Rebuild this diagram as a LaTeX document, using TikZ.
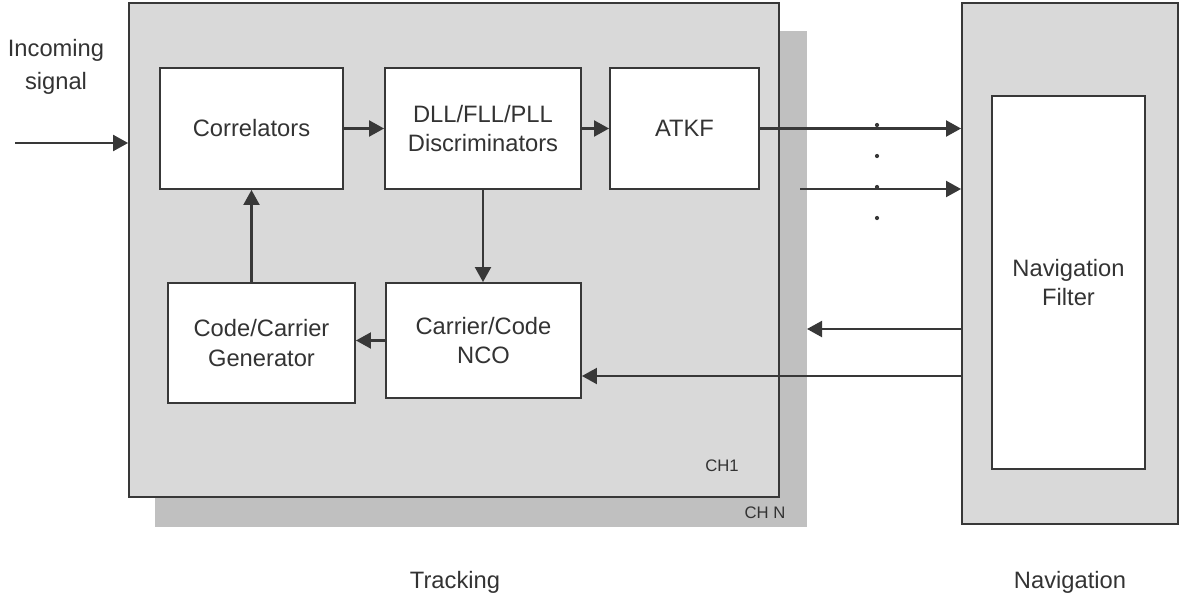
\documentclass[tikz,border=0pt]{standalone}
\usepackage{fontspec}
\setmainfont{Liberation Sans}
\usetikzlibrary{arrows.meta}
\definecolor{chgray}{HTML}{D9D9D9}
\definecolor{shgray}{HTML}{C0C0C0}
\definecolor{ln}{HTML}{383838}
\definecolor{tx}{HTML}{333333}

\begin{document}
\begin{tikzpicture}[x=0.02cm,y=-0.02cm,font=\fontsize{13.5}{17}\selectfont,text=tx,
  chbox/.style={draw=ln,line width=1.1pt,fill=chgray,inner sep=0pt},
  blk/.style={draw=ln,line width=1.1pt,fill=white,align=center,inner sep=0pt},
  arr/.style={draw=ln,line width=1.2pt,-{Triangle[length=0.3cm,width=0.32cm]}},
  small/.style={font=\fontsize{9.5}{11}\selectfont}]

\useasboundingbox (0,0) rectangle (1186,602);

%canali
\node[fill=shgray,inner sep=0pt,minimum width=13.04cm,minimum height=9.92cm] (chn) at (481,279) {};
\node[chbox,minimum width=13cm,minimum height=9.88cm] (ch1) at (454,250) {};
\node[small] (lchn) at (765,513) {CH N};
\node[small] (lch1) at (722,466) {CH1};

%blocchi
\node[blk,minimum width=3.66cm,minimum height=2.42cm] (corr) at (251.5,128.5) {Correlators};
\node[blk,minimum width=3.92cm,minimum height=2.42cm] (disc) at (483,128.5) {DLL/FLL/PLL\\Discriminators};
\node[blk,minimum width=2.98cm,minimum height=2.42cm] (atkf) at (684.5,128.5) {ATKF};
\node[blk,minimum width=3.74cm,minimum height=2.4cm] (gen) at (261.5,343) {Code/Carrier\\Generator};
\node[blk,minimum width=3.9cm,minimum height=2.3cm] (nco) at (483.5,340.5) {Carrier/Code\\NCO};

%navigazione
\node[chbox,minimum width=4.32cm,minimum height=10.42cm] (nav) at (1070,263.5) {};
\node[blk,minimum width=3.06cm,minimum height=7.46cm] (filt) at (1068.5,282.5) {Navigation\\Filter};

%segnale
\coordinate (in) at (15,143);
\node[align=center,font=\fontsize{13.5}{18.5}\selectfont] (lin) at (56,67) {Incoming\\signal};
\draw[arr] (in) -- (in -| ch1.west);

\draw[arr] (corr.east) -- (disc.west);
\draw[arr] (disc.east) -- (atkf.west);
\draw[arr] (disc.south) -- (disc.south |- nco.north);
\draw[arr] (nco.west) -- (nco.west -| gen.east);
\draw[arr] (corr.south |- gen.north) -- (corr.south);

%uscite
\coordinate (o2) at (800,189);
\draw[arr] (atkf.east) -- (atkf.east -| nav.west);
\draw[arr] (o2) -- (o2 -| nav.west);
\foreach \y in {125,156,187,218}
  \fill[ln] (877,\y) circle (1.2pt);

%ritorno
\coordinate (r1) at (807,329);
\coordinate (r2) at (0,376);
\draw[arr] (r1 -| nav.west) -- (r1);
\draw[arr] (r2 -| nav.west) -- (r2 -| nco.east);

\node (ltr) at (455,582) {Tracking};
\node (lnav) at (1070,582) {Navigation};

\end{tikzpicture}
\end{document}
